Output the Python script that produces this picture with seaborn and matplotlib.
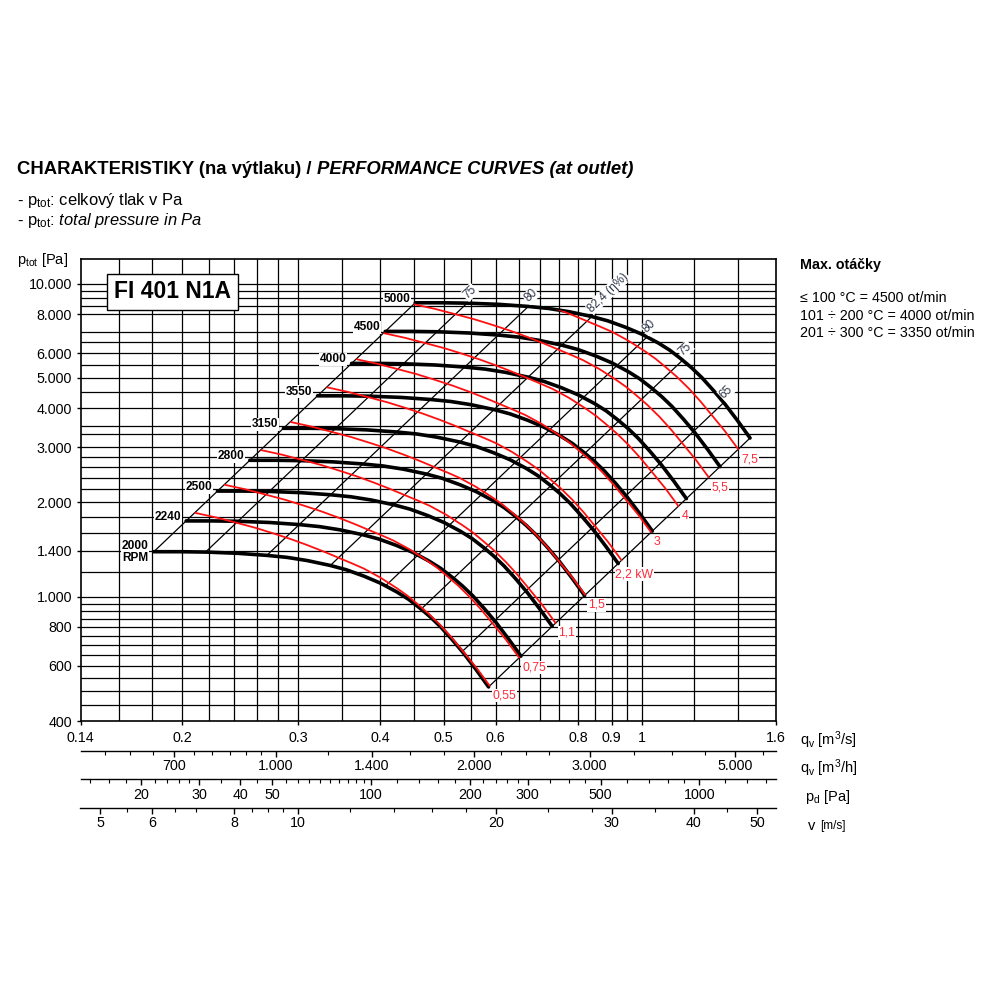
import numpy as np
import pandas as pd
import seaborn as sns
import matplotlib.pyplot as plt
from matplotlib.path import Path
from matplotlib.ticker import NullFormatter

# fan curve at 2000 RPM (qv in m3/s, ptot in Pa)
base_qv = [0.181, 0.1988, 0.218, 0.2424, 0.269, 0.2888, 0.310, 0.336, 0.3553, 0.378, 0.4003,
           0.424, 0.4416, 0.460, 0.4769, 0.494, 0.5150, 0.536, 0.5603, 0.585]
base_p = [1391, 1391, 1387, 1375, 1354, 1334, 1303, 1257, 1218, 1162, 1104,
          1035, 981, 918, 861, 802, 728, 659, 583, 514]
rpm = [2000, 2240, 2500, 2800, 3150, 3550, 4000, 4500, 5000]

# motor power line for 0,55 kW
pw_qv = [0.2094, 0.2254, 0.2424, 0.2583, 0.2754, 0.2921, 0.310, 0.3282, 0.348, 0.3626, 0.378,
         0.4003, 0.424, 0.4395, 0.455, 0.4740, 0.494, 0.5145, 0.536, 0.5609, 0.587]
pw_p = [1851, 1789, 1719, 1659, 1591, 1528, 1460, 1393, 1323, 1276, 1228,
        1150, 1064, 1009, 950, 882, 810, 737, 664, 591, 519]
power_kw = [0.55, 0.75, 1.1, 1.5, 2.2, 3, 4, 5.5, 7.5]
power_labels = ["0,55", "0,75", "1,1", "1,5", "2,2 kW", "3", "4", "5,5", "7,5"]

# efficiency lines, where they cut the 2000 RPM curve
eta_qv = [0.181, 0.217, 0.269, 0.336, 0.407, 0.462, 0.533, 0.585]
eta_p = [1391, 1387, 1354, 1257, 1078, 912, 666, 514]
eta_labels = ["", "75", "80", "82,4 (η%)", "80", "75", "65", ""]

x_grid = [0.16, 0.18, 0.2, 0.22, 0.24, 0.26, 0.28, 0.3, 0.35, 0.4, 0.45, 0.5, 0.55, 0.6,
          0.65, 0.7, 0.75, 0.8, 0.85, 0.9, 0.95, 1, 1.2, 1.4]
y_grid = [450, 500, 550, 600, 650, 700, 750, 800, 850, 900, 950, 1000, 1200, 1400, 1600, 1800,
          2000, 2200, 2400, 2600, 2800, 3000, 3300, 3500, 4000, 4500, 5000, 5500, 6000, 6500,
          7000, 8000, 8500, 9000, 9500, 10000]
x_ticks = [0.14, 0.2, 0.3, 0.4, 0.5, 0.6, 0.8, 0.9, 1, 1.6]
x_tick_labels = ["0.14", "0.2", "0.3", "0.4", "0.5", "0.6", "0.8", "0.9", "1", "1.6"]
y_ticks = [400, 600, 800, 1000, 1400, 2000, 3000, 4000, 5000, 6000, 8000, 10000]
y_tick_labels = ["400", "600", "800", "1.000", "1.400", "2.000", "3.000", "4.000", "5.000",
                 "6.000", "8.000", "10.000"]

qh_ticks = [700, 1000, 1400, 2000, 3000, 5000]
qh_labels = ["700", "1.000", "1.400", "2.000", "3.000", "5.000"]
qh_minor = [550, 600, 650, 750, 800, 850, 900, 950, 1200, 1600, 1800, 2200, 2400, 2600,
            3500, 4000, 4500, 5500]
pd_ticks = [20, 30, 40, 50, 100, 200, 300, 500, 1000]
pd_minor = [14, 16, 18, 22, 24, 26, 28, 35, 45, 55, 60, 65, 70, 75, 80, 85, 90, 95, 120, 140,
            160, 180, 220, 240, 260, 280, 350, 400, 450, 600, 700, 800, 900, 1200, 1400, 1600]
v_ticks = [5, 6, 8, 10, 20, 30, 40, 50]
v_minor = [5.5, 6.5, 7, 8.5, 9, 9.5, 12, 14, 16, 18, 24, 28, 35, 45]

QMIN, QMAX = 0.14, 1.6
AREA = 0.03   # outlet area m2 (v = qv / A)
RHO = 1.2

sns.set_theme(style="white")
plt.rcParams["font.family"] = ["Liberation Sans", "DejaVu Sans"]
plt.rcParams["mathtext.fontset"] = "custom"
plt.rcParams["mathtext.rm"] = "Liberation Sans"
plt.rcParams["mathtext.it"] = "Liberation Sans:italic"
plt.rcParams["mathtext.bf"] = "Liberation Sans:bold"
plt.rcParams["text.color"] = "black"
plt.rcParams["xtick.color"] = "black"
plt.rcParams["ytick.color"] = "black"

fig = plt.figure(figsize=(10, 10), dpi=100)
L, W = 0.0805, 0.6952
ax = fig.add_axes([L, 0.279, W, 0.462])
ax.set_xscale("log")
ax.set_yscale("log")
ax.set_xlim(QMIN, QMAX)
ax.set_ylim(400, 12000)

for x in x_grid:
    ax.axvline(x, color="black", lw=0.9, zorder=1)
for y in y_grid:
    ax.axhline(y, color="black", lw=0.9, zorder=1)

# fan laws: qv ~ n, p ~ n^2
k_rpm = np.array(rpm) / rpm[0]
fan = pd.concat([pd.DataFrame({"qv": np.array(base_qv) * k, "p": np.array(base_p) * k ** 2, "rpm": n})
                 for n, k in zip(rpm, k_rpm)])
sns.lineplot(data=fan, x="qv", y="p", units="rpm", estimator=None, sort=False,
             color="black", lw=2.6, ax=ax, zorder=4, solid_joinstyle="round")

k_max = k_rpm[-1]
for q, p, lab in zip(eta_qv, eta_p, eta_labels):
    ax.plot([q, q * k_max], [p, p * k_max ** 2], color="black", lw=0.9, zorder=3)
    if lab:
        ax.annotate(lab, (q * k_max, p * k_max ** 2), xytext=(2, 2), textcoords="offset pixels",
                    rotation=44, rotation_mode="anchor", ha="left", va="bottom", fontsize=8.5,
                    color="#2e3548", bbox=dict(fc="white", ec="none", pad=0.4), zorder=6)

# power lines: P ~ n^3
k_pw = (np.array(power_kw) / power_kw[0]) ** (1 / 3)
pw = pd.concat([pd.DataFrame({"qv": np.array(pw_qv) * k, "p": np.array(pw_p) * k ** 2, "kw": kw})
                for kw, k in zip(power_kw, k_pw)])
n0 = len(ax.lines)
sns.lineplot(data=pw, x="qv", y="p", units="kw", estimator=None, sort=False,
             color="#ff1010", lw=1.3, ax=ax, zorder=5, solid_joinstyle="round")
top_q = np.array(base_qv) * k_max
top_p = np.array(base_p) * k_max ** 2
verts = [(0.1, top_p[0])] + list(zip(top_q, top_p)) + [(3, top_p[-1]), (3, 100), (0.1, 100), (0.1, top_p[0])]
clip = Path(verts, closed=True)
for ln in ax.lines[n0:]:
    ln.set_clip_path(clip, ax.transData)

for k, lab in zip(k_pw, power_labels):
    off = (-6, -14) if "kW" in lab else (3, -10)
    ax.annotate(lab, (pw_qv[-1] * k, pw_p[-1] * k ** 2), xytext=off, textcoords="offset pixels",
                ha="left", va="center", fontsize=8.8, color="#ff2a3a",
                bbox=dict(fc="white", ec="none", pad=0.6), zorder=7)

for n, k in zip(rpm, k_rpm):
    lab = f"{n}\nRPM" if n == rpm[0] else str(n)
    dy = 0 if n == rpm[0] else 4
    ax.annotate(lab, (base_qv[0] * k, base_p[0] * k ** 2), xytext=(-5, dy), textcoords="offset pixels",
                ha="right", va="center", fontsize=8.6, fontweight="bold", linespacing=1.0,
                bbox=dict(fc="white", ec="none", pad=0.4), zorder=7)

ax.text(0.1322, 0.9286, "FI 401 N1A", transform=ax.transAxes, ha="center", va="center",
        fontsize=16.5, fontweight="bold", zorder=8,
        bbox=dict(boxstyle="square,pad=0.3", fc="white", ec="black", lw=1))

ax.set_xticks(x_ticks, x_tick_labels)
ax.set_yticks(y_ticks, y_tick_labels)
ax.set_xticks([], minor=True)
ax.set_yticks([], minor=True)
ax.tick_params(axis="both", which="major", bottom=True, left=True, direction="out", length=3,
               width=1, color="black", labelsize=10.3, labelcolor="black")
ax.tick_params(axis="x", pad=4)
ax.tick_params(axis="y", pad=3)
ax.set_xlabel("")
ax.set_ylabel("")
for s in ax.spines.values():
    s.set_color("black")
    s.set_linewidth(1.2)


def scale_axis(y_fig, lim, major, labels, minor):
    a = fig.add_axes([L, y_fig, W, 1e-4])
    a.set_xscale("log")
    a.set_xlim(*lim)
    a.set_yticks([])
    for s in ["top", "left", "right"]:
        a.spines[s].set_visible(False)
    a.spines["bottom"].set_color("black")
    a.spines["bottom"].set_linewidth(1.0)
    a.patch.set_alpha(0)
    a.set_xticks(major, labels)
    a.set_xticks(minor, minor=True)
    a.xaxis.set_minor_formatter(NullFormatter())
    a.tick_params(axis="x", which="major", bottom=True, direction="out", length=4.3, width=1,
                  color="black", labelsize=10.3, labelcolor="black", pad=2)
    a.tick_params(axis="x", which="minor", bottom=True, direction="out", length=2.8, width=0.8,
                  color="black")
    return a


def pdyn(q):
    return 0.5 * RHO * (q / AREA) ** 2


scale_axis(1 - 0.7507, (QMIN * 3600, QMAX * 3600), qh_ticks, qh_labels, qh_minor)
scale_axis(1 - 0.779, (pdyn(QMIN), pdyn(QMAX)), pd_ticks, [str(t) for t in pd_ticks], pd_minor)
scale_axis(1 - 0.8077, (QMIN / AREA, QMAX / AREA), v_ticks, [str(t) for t in v_ticks], v_minor)

# texts around the chart
t1 = fig.text(0.017, 0.830, "CHARAKTERISTIKY (na výtlaku) / ", fontsize=13.3, fontweight="bold", va="center")
fig.canvas.draw()
bb = t1.get_window_extent()
fig.text(bb.x1 / fig.bbox.width, 0.830, "PERFORMANCE CURVES (at outlet)", fontsize=13.3,
         fontweight="bold", fontstyle="italic", va="center")
fig.text(0.017, 0.800, r"- $\mathregular{p_{tot}}$: celkový tlak v Pa", fontsize=11.9, va="center")
fig.text(0.017, 0.779, r"- $\mathregular{p_{tot}}$: $\mathit{total\ pressure\ in\ Pa}$", fontsize=11.9, va="center")
fig.text(0.017, 0.740, r"$\mathregular{p_{tot}}$ [Pa]", fontsize=10.5, va="center")

fig.text(0.800, 0.735, "Max. otáčky", fontsize=10.3, fontweight="bold", va="center")
fig.text(0.800, 0.702, "≤ 100 °C = 4500 ot/min", fontsize=10.3, va="center")
fig.text(0.800, 0.684, "101 ÷ 200 °C = 4000 ot/min", fontsize=10.3, va="center")
fig.text(0.800, 0.667, "201 ÷ 300 °C = 3350 ot/min", fontsize=10.3, va="center")

fig.text(0.800, 0.260, r"$\mathregular{q_v}$ [m$^3$/s]", fontsize=10.5, va="center")
fig.text(0.800, 0.232, r"$\mathregular{q_v}$ [m$^3$/h]", fontsize=10.5, va="center")
fig.text(0.805, 0.203, r"$\mathregular{p_d}$ [Pa]", fontsize=10.5, va="center")
fig.text(0.808, 0.174, "v", fontsize=10.5, va="center")
fig.text(0.820, 0.174, "[m/s]", fontsize=8.5, va="center")

fig.savefig("out.png", dpi=100, facecolor="white")
